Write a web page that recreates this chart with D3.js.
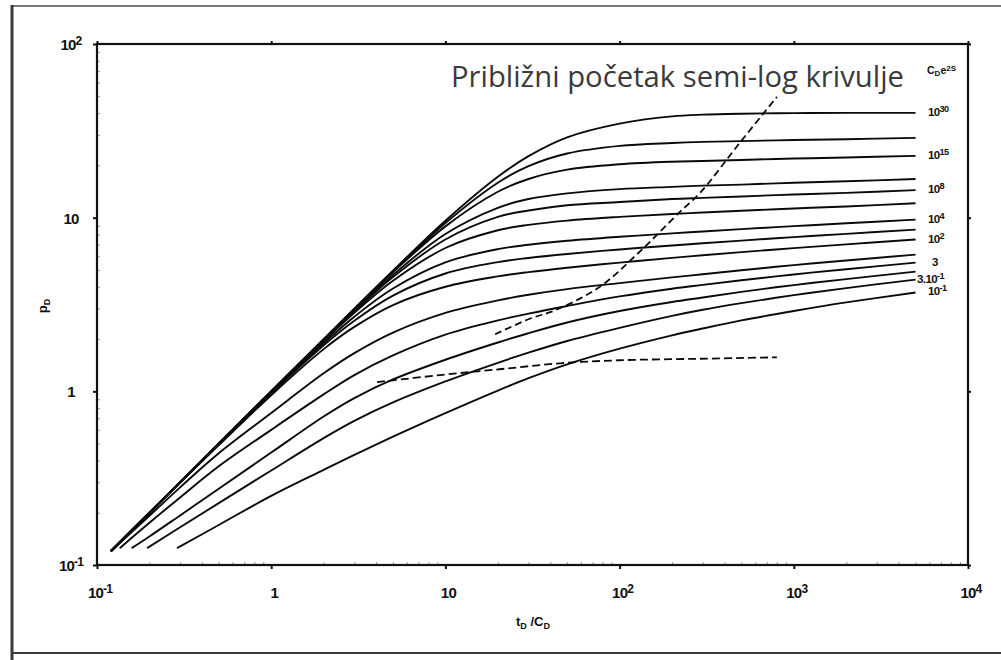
<!DOCTYPE html>
<html><head><meta charset="utf-8">
<script src="https://cdn.jsdelivr.net/npm/d3@7"></script>
<style>body{margin:0;background:#fff}svg{display:block}</style>
</head><body>
<svg id="chart" width="1001" height="660"></svg>
<script>
// ---- data (t_D/C_D , p_D) ----
const c1e30 = [[0.12,0.12],[0.2,0.2],[0.3,0.3],[0.5,0.5],[1,1.0],[2,2.0],[3,2.99],[5,4.95],[10,9.6],[20,17.2],[30,22.6],[50,29.0],[100,34.8],[200,38.3],[300,39.2],[500,39.7],[1000,40.0],[2000,40.1],[5000,40.1]];
const c1e20 = [[0.12,0.12],[0.2,0.2],[0.3,0.3],[0.5,0.5],[1,1.0],[2,1.99],[3,2.98],[5,4.9],[10,9.32],[20,15.9],[30,19.8],[50,23.4],[100,25.9],[200,26.9],[300,27.3],[500,27.6],[1000,28.0],[2000,28.3],[5000,28.8]];
const c1e15 = [[0.12,0.12],[0.2,0.2],[0.3,0.3],[0.5,0.5],[1,1.0],[2,1.99],[3,2.96],[5,4.84],[10,8.91],[20,14.1],[30,16.7],[50,18.9],[100,20.3],[200,21.0],[300,21.2],[500,21.5],[1000,21.9],[2000,22.2],[5000,22.7]];
const c1e10 = [[0.12,0.12],[0.2,0.2],[0.3,0.3],[0.5,0.5],[1,1.0],[2,1.98],[3,2.92],[5,4.68],[10,8.06],[20,11.4],[30,12.8],[50,13.8],[100,14.6],[200,15.05],[300,15.3],[500,15.5],[1000,15.9],[2000,16.2],[5000,16.7]];
const c1e8  = [[0.12,0.12],[0.2,0.2],[0.3,0.3],[0.5,0.5],[1,0.995],[2,1.97],[3,2.89],[5,4.55],[10,7.49],[20,10.1],[30,11.0],[50,11.8],[100,12.3],[200,12.8],[300,13.0],[500,13.25],[1000,13.6],[2000,13.9],[5000,14.4]];
const c1e6  = [[0.12,0.12],[0.2,0.2],[0.3,0.3],[0.5,0.499],[1,0.99],[2,1.94],[3,2.83],[5,4.33],[10,6.69],[20,8.46],[30,9.09],[50,9.62],[100,10.1],[200,10.5],[300,10.7],[500,10.95],[1000,11.3],[2000,11.6],[5000,12.1]];
const c1e4  = [[0.12,0.12],[0.2,0.2],[0.3,0.299],[0.5,0.498],[1,0.98],[2,1.89],[3,2.69],[5,3.91],[10,5.53],[20,6.59],[30,6.98],[50,7.36],[100,7.76],[200,8.12],[300,8.33],[500,8.59],[1000,8.94],[2000,9.28],[5000,9.74]];
const c1e3  = [[0.12,0.12],[0.2,0.2],[0.3,0.299],[0.5,0.496],[1,0.97],[2,1.84],[3,2.55],[5,3.56],[10,4.77],[20,5.55],[30,5.86],[50,6.18],[100,6.56],[200,6.92],[300,7.12],[500,7.38],[1000,7.73],[2000,8.07],[5000,8.53]];
const c1e2  = [[0.12,0.12],[0.2,0.199],[0.3,0.298],[0.5,0.49],[1,0.95],[2,1.75],[3,2.35],[5,3.14],[10,4.0],[20,4.59],[30,4.86],[50,5.15],[100,5.51],[200,5.87],[300,6.07],[500,6.33],[1000,6.68],[2000,7.02],[5000,7.48]];
const c10   = [[0.12,0.12],[0.2,0.192],[0.3,0.28],[0.5,0.44],[1,0.75],[2,1.27],[3,1.66],[5,2.18],[10,2.83],[20,3.34],[30,3.6],[50,3.88],[100,4.2],[200,4.53],[300,4.72],[500,4.98],[1000,5.33],[2000,5.67],[5000,6.13]];
const c3    = [[0.135,0.125],[0.2,0.175],[0.3,0.245],[0.5,0.37],[1,0.6],[2,0.96],[3,1.24],[5,1.61],[10,2.12],[20,2.56],[30,2.8],[50,3.1],[100,3.52],[200,3.9],[300,4.1],[500,4.36],[1000,4.71],[2000,5.05],[5000,5.51]];
const c1    = [[0.158,0.125],[0.2,0.146],[0.3,0.193],[0.5,0.275],[1,0.444],[2,0.716],[3,0.914],[5,1.17],[10,1.52],[20,1.91],[30,2.16],[50,2.49],[100,2.9],[200,3.27],[300,3.47],[500,3.74],[1000,4.09],[2000,4.43],[5000,4.89]];
const c03   = [[0.194,0.125],[0.3,0.165],[0.5,0.227],[1,0.35],[2,0.538],[3,0.676],[5,0.863],[10,1.14],[20,1.46],[30,1.67],[50,1.95],[100,2.32],[200,2.72],[300,2.95],[500,3.22],[1000,3.58],[2000,3.93],[5000,4.40]];
const c01   = [[0.288,0.125],[0.5,0.17],[1,0.25],[2,0.353],[3,0.431],[5,0.548],[10,0.749],[20,1.01],[30,1.19],[50,1.43],[100,1.76],[200,2.1],[300,2.3],[500,2.56],[1000,2.9],[2000,3.25],[5000,3.71]];

const curves = [c1e30,c1e20,c1e15,c1e10,c1e8,c1e6,c1e4,c1e3,c1e2,c10,c3,c1,c03,c01];

// dashed "approximate start of semi-log line"
const semiLogStart = [[19.3,2.13],[30,2.6],[43.7,2.96],[77,4.0],[131,6.4],[222,10.8],[290,13.9],[490,27],[800,49.6]];
// lower dashed line
const lowerDashed = [[4.05,1.13],[9.3,1.24],[20.4,1.34],[45.5,1.45],[100,1.51],[287,1.54],[800,1.57]];

// labels of curves at right: [curve index, base, exponent]
const curveLabels = [[0,"10","30"],[2,"10","15"],[4,"10","8"],[6,"10","4"],[8,"10","2"],[10,"3",""],[12,"3.10","-1"],[13,"10","-1"]];

const xTicks = [0.1,1,10,100,1000,10000];
const xTickLabels = [["10","-1"],["1",""],["10",""],["10","2"],["10","3"],["10","4"]];
const yTicks = [0.1,1,10,100];
const yTickLabels = [["10","-1"],["1",""],["10",""],["10","2"]];
const annotation = "Približni početak semi-log krivulje";

// ---- drawing ----
const svg = d3.select("#chart");
const x = d3.scaleLog().domain([0.1,1e4]).range([97,968]);
const y = d3.scaleLog().domain([0.1,100]).range([565,44]);

// outer frame
const frame = svg.append("g").attr("stroke","#3a3a3a").attr("fill","none");
frame.append("line").attr("x1",12).attr("x2",1001).attr("y1",6).attr("y2",6).attr("stroke-width",2).attr("stroke","#777");
frame.append("line").attr("x1",12).attr("x2",12).attr("y1",5).attr("y2",660).attr("stroke-width",3);
frame.append("line").attr("x1",11).attr("x2",1001).attr("y1",653).attr("y2",653).attr("stroke-width",2);

// axes with d3
const minorX = [];
for (let e=-1;e<4;e++) for (let m=2;m<10;m++) minorX.push(m*Math.pow(10,e));
const minorY = [];
for (let e=-1;e<2;e++) for (let m=2;m<10;m++) minorY.push(m*Math.pow(10,e));

function styleAxis(g){ g.select(".domain").remove(); g.selectAll("line").attr("stroke","#111"); }
svg.append("g").attr("transform","translate(0,565)")
  .call(d3.axisBottom(x).tickValues(xTicks).tickFormat("").tickSizeInner(4).tickSizeOuter(0)).call(styleAxis)
  .selectAll("line").attr("stroke-width",2);
svg.append("g").attr("transform","translate(0,565)")
  .call(d3.axisTop(x).tickValues(minorX).tickFormat("").tickSizeInner(3).tickSizeOuter(0)).call(styleAxis)
  .selectAll("line").attr("stroke","#999").attr("stroke-width",1);
svg.append("g").attr("transform","translate(0,44)")
  .call(d3.axisTop(x).tickValues(xTicks).tickFormat("").tickSizeInner(3).tickSizeOuter(0)).call(styleAxis)
  .selectAll("line").attr("stroke-width",2);
svg.append("g").attr("transform","translate(97,0)")
  .call(d3.axisLeft(y).tickValues(yTicks).tickFormat("").tickSizeInner(4).tickSizeOuter(0)).call(styleAxis)
  .selectAll("line").attr("stroke-width",2);
svg.append("g").attr("transform","translate(97,0)")
  .call(d3.axisRight(y).tickValues(minorY).tickFormat("").tickSizeInner(3).tickSizeOuter(0)).call(styleAxis)
  .selectAll("line").attr("stroke","#999").attr("stroke-width",1);
svg.append("g").attr("transform","translate(968,0)")
  .call(d3.axisRight(y).tickValues(yTicks).tickFormat("").tickSizeInner(3).tickSizeOuter(0)).call(styleAxis)
  .selectAll("line").attr("stroke-width",2);

// plot box
svg.append("rect").attr("x",x(0.1)).attr("y",y(100)).attr("width",x(1e4)-x(0.1)).attr("height",y(0.1)-y(100))
  .attr("fill","none").attr("stroke","#111").attr("stroke-width",2.2);

// tick labels
const lblFont = "'Liberation Sans', Arial, sans-serif";
function supLabel(sel, base, exp, size){
  sel.append("tspan").text(base);
  if (exp) sel.append("tspan").attr("dy", -size*0.35).attr("font-size", size*0.8).text(exp);
}
xTicks.forEach((v,i)=>{
  const t = svg.append("text").attr("x",x(v)+3).attr("y",598).attr("text-anchor","middle")
    .attr("font-family",lblFont).attr("font-weight","bold").attr("font-size",15).attr("fill","#111")
    .attr("letter-spacing",-0.8);
  supLabel(t, xTickLabels[i][0], xTickLabels[i][1], 15);
});
yTicks.forEach((v,i)=>{
  const t = svg.append("text").attr("x",71).attr("y",y(v)+6).attr("text-anchor","middle")
    .attr("font-family",lblFont).attr("font-weight","bold").attr("font-size",15).attr("fill","#111")
    .attr("letter-spacing",-0.8);
  supLabel(t, yTickLabels[i][0], yTickLabels[i][1], 15);
});

// axis titles
const xt = svg.append("text").attr("x",516).attr("y",626).attr("font-family",lblFont)
  .attr("font-weight","bold").attr("font-size",13).attr("fill","#111");
xt.append("tspan").text("t");
xt.append("tspan").attr("dy",3).attr("font-size",9).text("D");
xt.append("tspan").attr("dy",-3).text(" /C");
xt.append("tspan").attr("dy",3).attr("font-size",9).text("D");
const yt = svg.append("text").attr("transform","translate(47,306) rotate(-90)").attr("text-anchor","middle")
  .attr("font-family",lblFont).attr("font-weight","bold").attr("font-size",13).attr("fill","#111");
yt.append("tspan").text("p");
yt.append("tspan").attr("dy",3).attr("font-size",9).text("D");

// curves
const line = d3.line().x(d=>x(d[0])).y(d=>y(d[1])).curve(d3.curveCatmullRom.alpha(0.5));
svg.append("g").selectAll("path").data(curves).join("path")
  .attr("d",line).attr("fill","none").attr("stroke","#0a0a0a").attr("stroke-width",1.9)
  .attr("stroke-linejoin","round");

// dashed lines
svg.append("path").datum(semiLogStart).attr("d",line).attr("fill","none")
  .attr("stroke","#0a0a0a").attr("stroke-width",1.8).attr("stroke-dasharray","7,4");
svg.append("path").datum(lowerDashed).attr("d",line).attr("fill","none")
  .attr("stroke","#0a0a0a").attr("stroke-width",1.8).attr("stroke-dasharray","8,4");

// curve labels at right
curveLabels.forEach(([ci,base,exp])=>{
  const last = curves[ci][curves[ci].length-1];
  const t = svg.append("text").attr("x", base.length>2 ? 917 : (base.length===1 ? 932 : 928))
    .attr("y", y(last[1])+3).attr("font-family",lblFont).attr("font-weight","bold")
    .attr("font-size",11.5).attr("fill","#111").attr("letter-spacing",-0.6);
  supLabel(t, base, exp, 11.5);
});
// CDe2S header
const hd = svg.append("text").attr("x",927).attr("y",74).attr("font-family",lblFont)
  .attr("font-weight","bold").attr("font-size",10.5).attr("fill","#111");
hd.append("tspan").text("C");
hd.append("tspan").attr("dy",2).attr("font-size",8).text("D");
hd.append("tspan").attr("dy",-2).text("e");
hd.append("tspan").attr("dy",-3).attr("font-size",8).text("2S");

// annotation text
const ann = svg.append("text").attr("x",451).attr("y",87).attr("font-family","'Open Sans', sans-serif")
  .attr("font-size",24).attr("fill","#3a3a3a").text(annotation);
const w = ann.node().getComputedTextLength();
ann.attr("font-size", 24*453/w);
</script>
</body></html>
